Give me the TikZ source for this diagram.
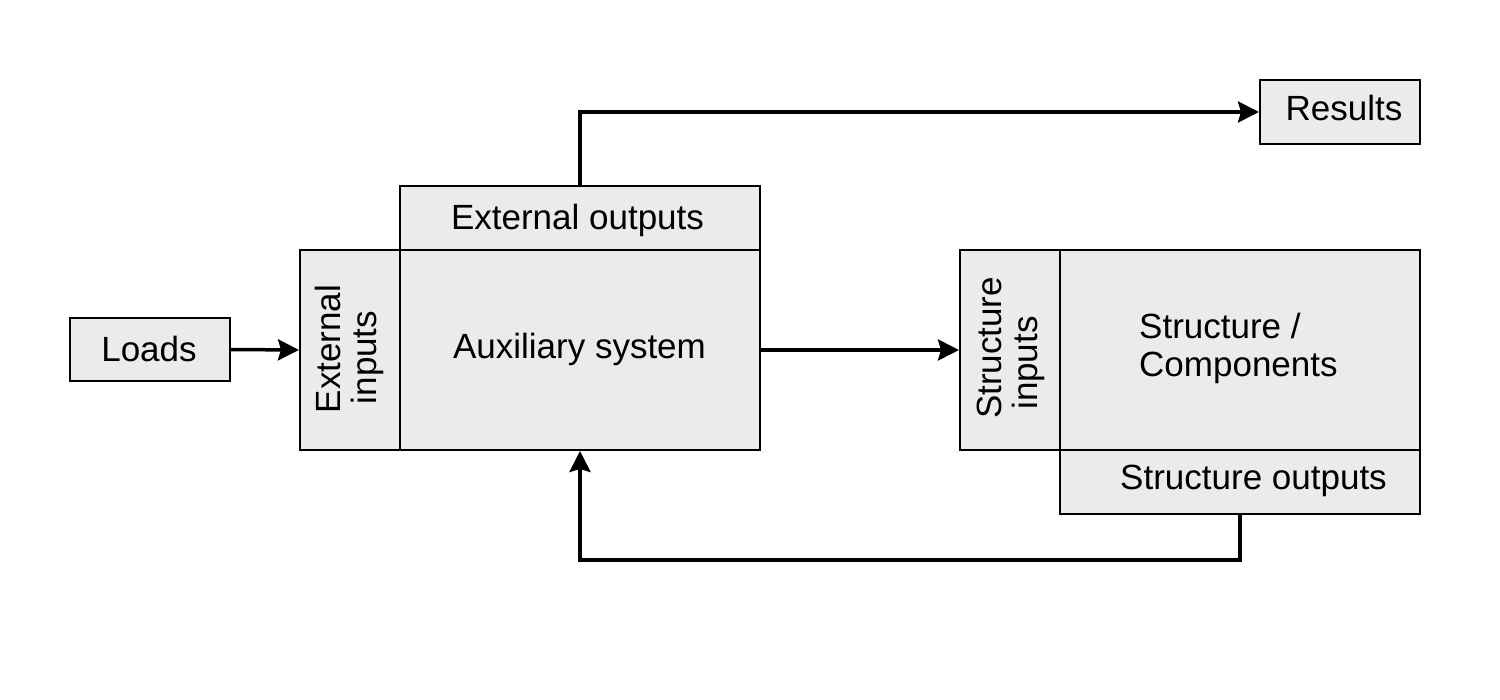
\documentclass[tikz,border=0pt]{standalone}
\usepackage{fontspec}
\setmainfont{Liberation Sans}
\usetikzlibrary{arrows.meta}
\definecolor{boxgray}{HTML}{EBEBEB}
\begin{document}
\begin{tikzpicture}[x=1pt,y=-1pt,
  blk/.style={draw=black, line width=2pt, fill=boxgray, rectangle, inner sep=0pt},
  lbl/.style={inner sep=0pt, font=\fontsize{35}{38}\selectfont, anchor=base},
  conn/.style={line width=3.5pt, -{Stealth[length=21pt,width=21pt,inset=3pt]}}]
\useasboundingbox (0,0) rectangle (1500,700);
% boxes
\node[blk, minimum width=160pt, minimum height=63pt] (loads) at (150,349.5) {};
\node[blk, minimum width=160pt, minimum height=64pt] (results) at (1340,112) {};
\node[blk, minimum width=360pt, minimum height=64pt] (extout) at (580,218) {};
\node[blk, minimum width=100pt, minimum height=200pt] (extin) at (350,350) {};
\node[blk, minimum width=360pt, minimum height=200pt] (aux) at (580,350) {};
\node[blk, minimum width=100pt, minimum height=200pt] (strin) at (1010,350) {};
\node[blk, minimum width=360pt, minimum height=200pt] (strc) at (1240,350) {};
\node[blk, minimum width=360pt, minimum height=64pt] (strout) at (1240,482) {};
% texts
\node[lbl] (loadstxt) at (149,362) {Loads};
\node[lbl] (resultstxt) at (1344,121) {Results};
\node[lbl] (extouttxt) at (577.5,229.3) {External outputs};
\node[lbl] (auxtxt) at (579.5,358.3) {Auxiliary system};
\node[lbl] (strouttxt) at (1253.5,489.3) {Structure outputs};
\node[lbl, anchor=base west] (strctxta) at (1139,339) {Structure /};
\node[lbl, anchor=base west] (strctxtb) at (1139,377) {Components};
\node[lbl, rotate=90] (extintxta) at (340.5,349) {External};
\node[lbl, rotate=90] (extintxtb) at (376.5,357.5) {inputs};
\node[lbl, rotate=90] (strintxta) at (1001.5,348) {Structure};
\node[lbl, rotate=90] (strintxtb) at (1037.5,363) {inputs};
% connectors
\draw[conn] (loads.east) -- (extin.west);
\draw[conn] (aux.east) -- (strin.west);
\draw[conn] (extout.north) |- (results.west);
\coordinate (fb) at (1240,560);
\draw[conn] (strout.south -| fb) -- (fb) -| (aux.south);
\end{tikzpicture}
\end{document}
